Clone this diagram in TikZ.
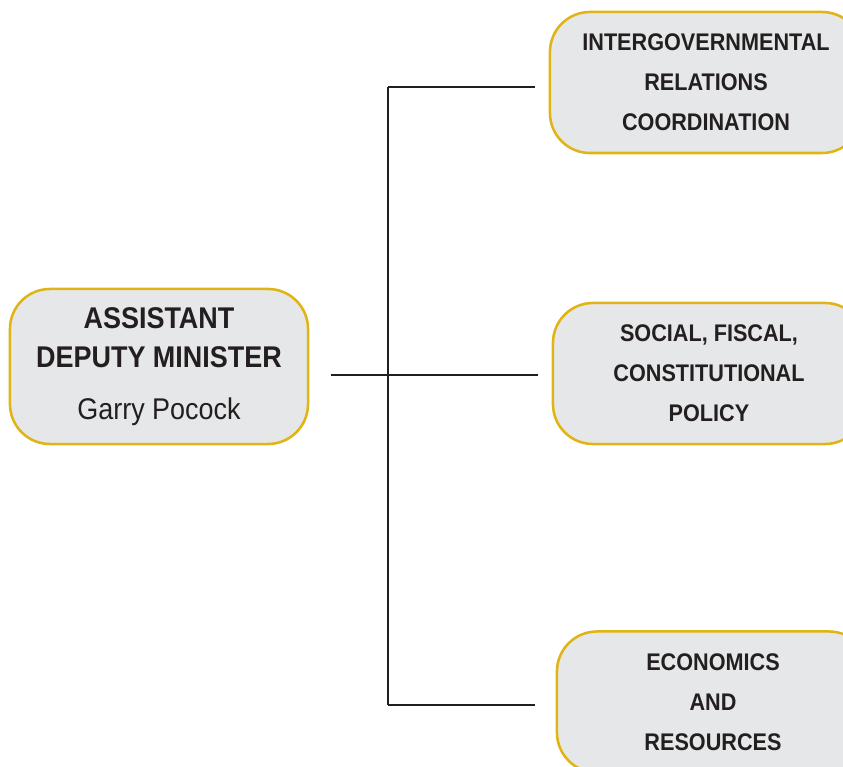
\documentclass[tikz,border=0pt]{standalone}
\usepackage{fontspec}
\setmainfont[FakeStretch=0.9]{Liberation Sans}

\definecolor{boxgold}{RGB}{224,180,20}
\definecolor{boxgray}{RGB}{230,231,232}
\definecolor{ink}{RGB}{35,31,32}

\begin{document}
\begin{tikzpicture}[x=0.025cm, y=-0.025cm]
                \tikzstyle{unit}=[rectangle, rounded corners=1cm, draw=boxgold, line width=1.8pt, fill=boxgray, text=ink, align=center, inner sep=0pt]
                \tikzstyle{branch}=[unit, minimum width=7.8cm, minimum height=3.525cm, font=\fontsize{17.1}{28.5}\selectfont\bfseries]
                \tikzstyle{conn}=[draw=ink, line width=0.8pt]

                \useasboundingbox (0,0) rectangle (843,767);
                \clip (0,0) rectangle (843,767);

                \node[unit, minimum width=7.45cm, minimum height=3.875cm, font=\fontsize{21.3}{27.7}\selectfont] (adm) at (159,366.5)
                    {\textbf{ASSISTANT}\\ \textbf{DEPUTY MINISTER}\\[9pt] Garry Pocock};
                \node[branch] (igr) at (706,82.5) {INTERGOVERNMENTAL\\ RELATIONS\\ COORDINATION};
                \node[branch] (sfc) at (709,373.5) {SOCIAL, FISCAL,\\ CONSTITUTIONAL\\ POLICY};
                \node[branch] (eco) at (713,702) {ECONOMICS\\ AND\\ RESOURCES};

                \coordinate (ttop) at (388,87);
                \coordinate (tmid) at (388,375);
                \coordinate (tbot) at (388,705);
                \draw[conn] (ttop) -- (tbot);
                \draw[conn, shorten >=0.35cm] (ttop) -- (igr.west |- ttop);
                \draw[conn, shorten <=0.55cm, shorten >=0.33cm] (adm.east |- tmid) -- (sfc.west |- tmid);
                \draw[conn, shorten >=0.52cm] (tbot) -- (eco.west |- tbot);
            \end{tikzpicture}
\end{document}
